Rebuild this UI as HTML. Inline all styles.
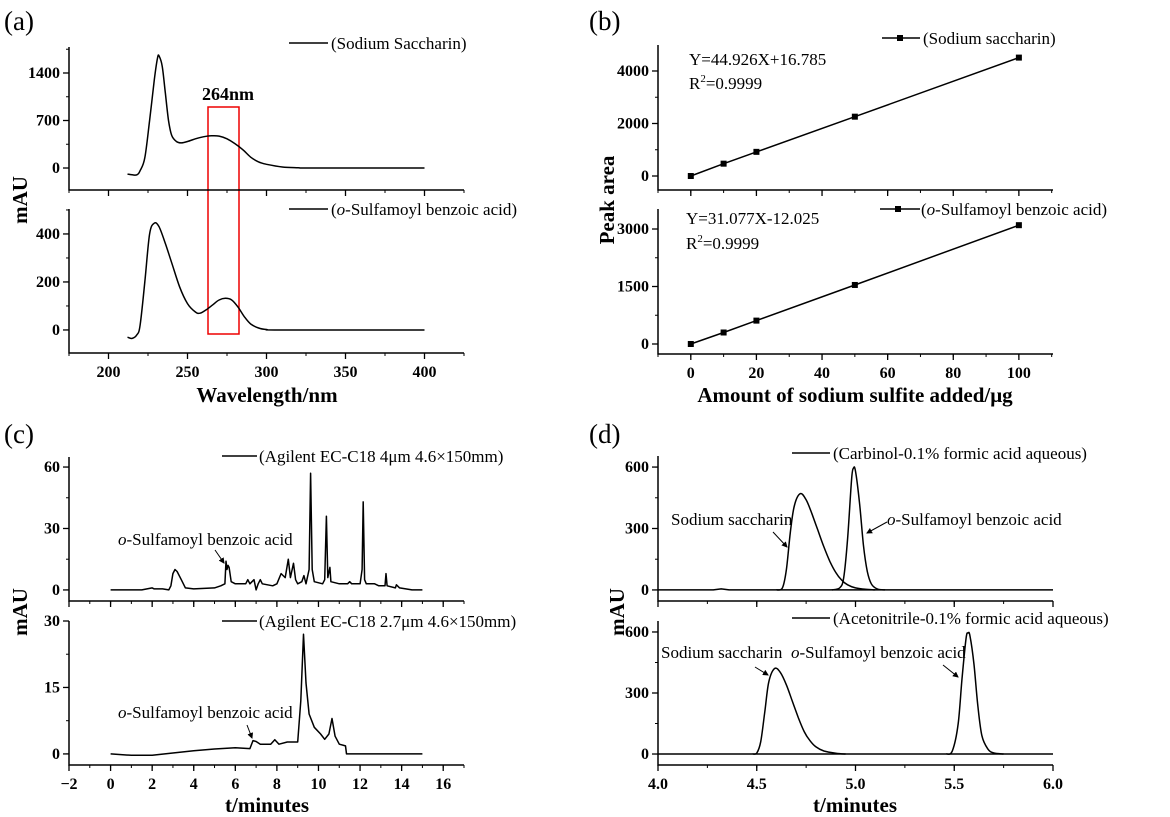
<!DOCTYPE html>
<html><head><meta charset="utf-8"><style>
body{margin:0;background:#fff}
svg{display:block}
text{font-family:"Liberation Serif",serif;fill:#000}
.tk{font-weight:bold;font-size:16px}
.ttl{font-weight:bold;font-size:21px}
.lg{font-size:17px}
.pl{font-size:27px}
</style></head><body>
<svg id="fig" width="1170" height="817" viewBox="0 0 1170 817" xmlns="http://www.w3.org/2000/svg">
<defs><marker id="ah" markerWidth="6" markerHeight="6" refX="5" refY="3" orient="auto"><path d="M0,0L6,3L0,6z" fill="#000"/></marker></defs>
<g id="static">
<text class="pl" x="4" y="30">(a)</text>
<text class="pl" x="589" y="30">(b)</text>
<text class="pl" x="4" y="443">(c)</text>
<text class="pl" x="589" y="443">(d)</text>
<text class="ttl" transform="translate(27,200) rotate(-90)" text-anchor="middle">mAU</text>
<text class="ttl" x="267" y="402" text-anchor="middle">Wavelength/nm</text>
<text class="ttl" transform="translate(614,200) rotate(-90)" text-anchor="middle">Peak area</text>
<text class="ttl" x="855" y="402" text-anchor="middle">Amount of sodium sulfite added/μg</text>
<text class="ttl" transform="translate(27,612) rotate(-90)" text-anchor="middle">mAU</text>
<text class="ttl" x="267" y="812" text-anchor="middle">t/minutes</text>
<text class="ttl" transform="translate(624,612) rotate(-90)" text-anchor="middle">mAU</text>
<text class="ttl" x="855" y="812" text-anchor="middle">t/minutes</text>
<rect x="208" y="107" width="31" height="227" fill="none" stroke="#e00" stroke-width="1.5"/>
<text x="202" y="100" font-weight="bold" font-size="18">264nm</text>
<line x1="289" y1="43" x2="328" y2="43" stroke="#000" stroke-width="1.5"/>
<text class="lg" x="331" y="49">(Sodium Saccharin)</text>
<line x1="289" y1="209" x2="328" y2="209" stroke="#000" stroke-width="1.5"/>
<text class="lg" x="331" y="215">(<tspan font-style="italic">o</tspan>-Sulfamoyl benzoic acid)</text>
<line x1="882" y1="38" x2="920" y2="38" stroke="#000" stroke-width="1.5"/>
<rect x="897" y="35" width="6" height="6"/>
<text class="lg" x="923" y="44">(Sodium saccharin)</text>
<line x1="880" y1="209" x2="920" y2="209" stroke="#000" stroke-width="1.5"/>
<rect x="895" y="206" width="6" height="6"/>
<text class="lg" x="921" y="215">(<tspan font-style="italic">o</tspan>-Sulfamoyl benzoic acid)</text>
<text class="lg" x="689" y="65">Y=44.926X+16.785</text>
<text class="lg" x="689" y="89">R<tspan font-size="11" dy="-7">2</tspan><tspan dy="7">=0.9999</tspan></text>
<text class="lg" x="686" y="224">Y=31.077X-12.025</text>
<text class="lg" x="686" y="249">R<tspan font-size="11" dy="-7">2</tspan><tspan dy="7">=0.9999</tspan></text>
<line x1="222" y1="456" x2="257" y2="456" stroke="#000" stroke-width="1.5"/>
<text class="lg" x="259" y="462">(Agilent EC-C18 4μm 4.6×150mm)</text>
<line x1="222" y1="621" x2="257" y2="621" stroke="#000" stroke-width="1.5"/>
<text class="lg" x="259" y="627">(Agilent EC-C18 2.7μm 4.6×150mm)</text>
<text class="lg" x="118" y="545"><tspan font-style="italic">o</tspan>-Sulfamoyl benzoic acid</text>
<line x1="215" y1="550" x2="224" y2="563" stroke="#000" marker-end="url(#ah)"/>
<text class="lg" x="118" y="718"><tspan font-style="italic">o</tspan>-Sulfamoyl benzoic acid</text>
<line x1="247" y1="725" x2="252" y2="738" stroke="#000" marker-end="url(#ah)"/>
<line x1="792" y1="453" x2="830" y2="453" stroke="#000" stroke-width="1.5"/>
<text class="lg" x="833" y="459">(Carbinol-0.1% formic acid aqueous)</text>
<line x1="792" y1="618" x2="830" y2="618" stroke="#000" stroke-width="1.5"/>
<text class="lg" x="833" y="624">(Acetonitrile-0.1% formic acid aqueous)</text>
<text class="lg" x="671" y="525">Sodium saccharin</text>
<line x1="773" y1="532" x2="787" y2="547" stroke="#000" marker-end="url(#ah)"/>
<text class="lg" x="887" y="525"><tspan font-style="italic">o</tspan>-Sulfamoyl benzoic acid</text>
<line x1="887" y1="522" x2="867" y2="533" stroke="#000" marker-end="url(#ah)"/>
<text class="lg" x="661" y="658">Sodium saccharin</text>
<line x1="755" y1="667" x2="768" y2="675" stroke="#000" marker-end="url(#ah)"/>
<text class="lg" x="791" y="658"><tspan font-style="italic">o</tspan>-Sulfamoyl benzoic acid</text>
<line x1="943" y1="665" x2="958" y2="677" stroke="#000" marker-end="url(#ah)"/>
</g>
</svg>
<script>
const specSaccharin = [[212,-90],[215,-100],[218,-100],[220,-40],[223,150],[226,700],[229,1300],[231,1620],[232,1650],[234,1500],[236,1100],[238,700],[240,480],[243,390],[246,370],[250,390],[255,430],[260,460],[265,475],[270,470],[275,430],[280,360],[285,270],[290,160],[295,90],[300,55],[310,15],[320,3],[330,0],[400,0]];
const specSulfamoyl = [[212,-30],[215,-35],[218,-20],[220,20],[223,200],[226,400],[229,445],[232,430],[236,360],[240,280],[245,180],[250,110],[255,75],[258,70],[262,85],[266,105],[270,125],[274,132],[278,125],[282,95],[286,55],[290,25],[295,8],[300,2],[310,0],[400,0]];
const calibX = [0,10,20,50,100];
const calibSaccharin = [0,470,920,2260,4510];
const calibSulfamoyl = [0,300,610,1540,3100];
const chrom4um = [[0,0],[1.5,0],[2,1],[2.1,0.5],[2.5,0.5],[2.8,0],[2.9,2],[3.0,8],[3.1,10],[3.2,9],[3.4,5],[3.6,1],[4,0.5],[5,1],[5.3,2],[5.5,3],[5.55,14],[5.6,10],[5.65,12],[5.7,11],[5.8,4],[6,3],[6.5,3],[6.6,5],[6.7,3],[6.9,5],[7.0,0],[7.1,3],[7.2,5],[7.3,3],[7.8,2],[8.0,3],[8.2,8],[8.4,6],[8.55,15],[8.65,6],[8.8,13],[8.9,5],[9.0,3],[9.2,4],[9.3,7],[9.4,3],[9.55,10],[9.62,57],[9.7,10],[9.8,4],[10.2,3],[10.3,5],[10.38,36],[10.45,6],[10.55,11],[10.6,4],[11,3],[11.4,3],[11.5,4],[11.6,3],[12.0,3],[12.1,10],[12.15,43],[12.22,5],[12.3,3],[12.7,3],[12.9,2],[13.2,2],[13.25,8],[13.3,2],[13.7,1],[13.75,2.5],[13.9,1],[14.5,0],[15,0]];
const chrom27um = [[0,0],[1,-0.3],[2,-0.3],[3,0.2],[4,0.7],[5,1.1],[6,1.4],[6.7,1.2],[6.85,3],[7.0,2.8],[7.2,2.2],[7.7,2.2],[7.9,3.2],[8.1,2.2],[8.5,2.7],[9.0,2.7],[9.15,12],[9.28,27],[9.4,16],[9.55,9],[9.8,6],[10.1,4.5],[10.3,3.3],[10.5,4.5],[10.65,8],[10.8,4],[11.0,2.2],[11.3,1.8],[11.35,0],[12,0],[15,0]];
const carbBaseline = [[4.0,0],[4.28,0],[4.32,5],[4.36,0],[6.0,0]];
const carbSaccharin = [[4.6,0],[4.63,10],[4.65,100],[4.67,280],[4.69,410],[4.72,470],[4.75,440],[4.78,370],[4.81,290],[4.84,210],[4.87,140],[4.9,85],[4.93,48],[4.96,25],[5.0,10],[5.05,3],[5.1,0]];
const carbSulfamoyl = [[4.88,0],[4.92,10],[4.94,60],[4.96,250],[4.98,540],[4.99,595],[5.0,580],[5.02,430],[5.04,220],[5.06,90],[5.08,30],[5.11,5],[5.15,0]];
const acnBaseline = [[4.0,0],[6.0,0]];
const acnSaccharin = [[4.48,0],[4.5,5],[4.52,60],[4.54,200],[4.56,350],[4.59,420],[4.62,400],[4.65,340],[4.68,260],[4.71,180],[4.74,110],[4.77,65],[4.8,35],[4.84,15],[4.9,4],[4.95,0]];
const acnSulfamoyl = [[5.46,0],[5.49,15],[5.52,150],[5.54,380],[5.56,570],[5.57,595],[5.58,580],[5.6,440],[5.62,230],[5.64,90],[5.67,25],[5.7,5],[5.75,0]];
const aXTicks = [200,250,300,350,400];
const bXTicks = [0,20,40,60,80,100];
const cXTicks = [-2,0,2,4,6,8,10,12,14,16];
const dXTicks = ["4.0","4.5","5.0","5.5","6.0"];
const aTopYTicks = [0,700,1400], aBotYTicks = [0,200,400];
const bTopYTicks = [0,2000,4000], bBotYTicks = [0,1500,3000];
const cTopYTicks = [0,30,60], cBotYTicks = [0,15,30];
const dYTicks = [0,300,600];

const NS = "http://www.w3.org/2000/svg";
const svg = document.getElementById('fig');
function mk(tag, attrs, parent){const e=document.createElementNS(NS,tag);for(const k in attrs)e.setAttribute(k,attrs[k]);(parent||svg).appendChild(e);return e;}

function subplot(name, px0, px1, py0, py1, xmin, xmax, ymin, ymax, xTicks, xMinorStep, yTicks, yMinorStep, showXLabels){
  const g = mk('g',{});
  
  
  const sx = v => px0 + (v - xmin) / (xmax - xmin) * (px1 - px0);
  const sy = v => py1 - (v - ymin) / (ymax - ymin) * (py1 - py0);
  const ax = mk('path',{d:`M${px0},${py0}V${py1}H${px1}`,fill:'none',stroke:'#000','stroke-width':1.5},g);
  
  
  const xs=Number(xTicks[0]);
  for(let v=xs - xMinorStep*Math.ceil((xs-xmin)/xMinorStep); v<=xmax+1e-9; v+=xMinorStep){
    if(v<xmin-1e-9) continue;
    mk('line',{x1:sx(v),x2:sx(v),y1:py1,y2:py1+3,stroke:'#000','stroke-width':1},g);
  }
  xTicks.forEach(t=>{
    const v=Number(t);
    mk('line',{x1:sx(v),x2:sx(v),y1:py1,y2:py1+6,stroke:'#000','stroke-width':1.3},g);
    if(showXLabels){
      const tx=mk('text',{x:sx(v),y:py1+24,'text-anchor':'middle',class:'tk'},g);
      tx.textContent = String(t).replace('-','\u2212');
      
      
    }
  });
  const y0=Number(yTicks[0]);
  for(let v=y0 - yMinorStep*Math.floor((y0-ymin)/yMinorStep); v<=ymax+1e-9; v+=yMinorStep){
    mk('line',{x1:px0-3,x2:px0,y1:sy(v),y2:sy(v),stroke:'#000','stroke-width':1},g);
  }
  yTicks.forEach(v=>{
    mk('line',{x1:px0-6,x2:px0,y1:sy(v),y2:sy(v),stroke:'#000','stroke-width':1.3},g);
    const tx=mk('text',{x:px0-9,y:sy(v)+5,'text-anchor':'end',class:'tk'},g);
    tx.textContent=v;
    
    
  });
  return {g,sx,sy};
}
function line(sp, pts, name, smooth){
  const P = pts.map(p=>[sp.sx(p[0]), sp.sy(p[1])]);
  let d = 'M'+P[0][0].toFixed(1)+','+P[0][1].toFixed(1);
  for(let i=1;i<P.length;i++){
    if(smooth){
      const p0=P[Math.max(0,i-2)], p1=P[i-1], p2=P[i], p3=P[Math.min(P.length-1,i+1)];
      const c1=[p1[0]+(p2[0]-p0[0])/6, p1[1]+(p2[1]-p0[1])/6];
      const c2=[p2[0]-(p3[0]-p1[0])/6, p2[1]-(p3[1]-p1[1])/6];
      d+=`C${c1[0].toFixed(1)},${c1[1].toFixed(1)} ${c2[0].toFixed(1)},${c2[1].toFixed(1)} ${p2[0].toFixed(1)},${p2[1].toFixed(1)}`;
    } else d+='L'+P[i][0].toFixed(1)+','+P[i][1].toFixed(1);
  }
  const p = mk('path',{d,fill:'none',stroke:'#000','stroke-width':1.5,'stroke-linejoin':'round'},sp.g);
  
  
}
function scatterLine(sp, xs, ys, name){
  line(sp, xs.map((x,i)=>[x,ys[i]]), name+'-line', false);
  xs.forEach((x,i)=>{
    const r=mk('rect',{x:sp.sx(x)-3,y:sp.sy(ys[i])-3,width:6,height:6,fill:'#000'},sp.g);
    
    
  });
}
const aT = subplot('a-top-plot',69,464,47,190,175,425,-324,1783,aXTicks,25,aTopYTicks,350,false);
line(aT, specSaccharin, 'saccharin-spectrum', true);
const aB = subplot('a-bottom-plot',69,464,209,353,175,425,-96,504,aXTicks,25,aBotYTicks,100,true);
line(aB, specSulfamoyl, 'sulfamoyl-spectrum', true);
const bT = subplot('b-top-plot',658,1053,45,190,-10,110.4,-533,4990,bXTicks,10,bTopYTicks,1000,false);
scatterLine(bT, calibX, calibSaccharin, 'saccharin-calibration');
const bB = subplot('b-bottom-plot',658,1053,209,354,-10,110.4,-261,3522,bXTicks,10,bBotYTicks,750,true);
scatterLine(bB, calibX, calibSulfamoyl, 'sulfamoyl-calibration');
const cT = subplot('c-top-plot',69,464,457,601,-2,17,-5.4,64.9,cXTicks,1,cTopYTicks,15,false);
line(cT, chrom4um, 'chromatogram-4um', false);
const cB = subplot('c-bottom-plot',69,464,621,765,-2,17,-2.5,30,cXTicks,1,cBotYTicks,7.5,true);
line(cB, chrom27um, 'chromatogram-2-7um', false);
const dT = subplot('d-top-plot',658,1053,456,601,4,6,-54,654,dXTicks,0.25,dYTicks,150,false);
line(dT, carbBaseline, 'carbinol-baseline', false);
line(dT, carbSaccharin, 'carbinol-saccharin-peak', true);
line(dT, carbSulfamoyl, 'carbinol-sulfamoyl-peak', true);
const dB = subplot('d-bottom-plot',658,1053,621,765,4,6,-54,654,dXTicks,0.25,dYTicks,150,true);
line(dB, acnBaseline, 'acetonitrile-baseline', false);
line(dB, acnSaccharin, 'acetonitrile-saccharin-peak', true);
line(dB, acnSulfamoyl, 'acetonitrile-sulfamoyl-peak', true);
</script>
</body></html>
